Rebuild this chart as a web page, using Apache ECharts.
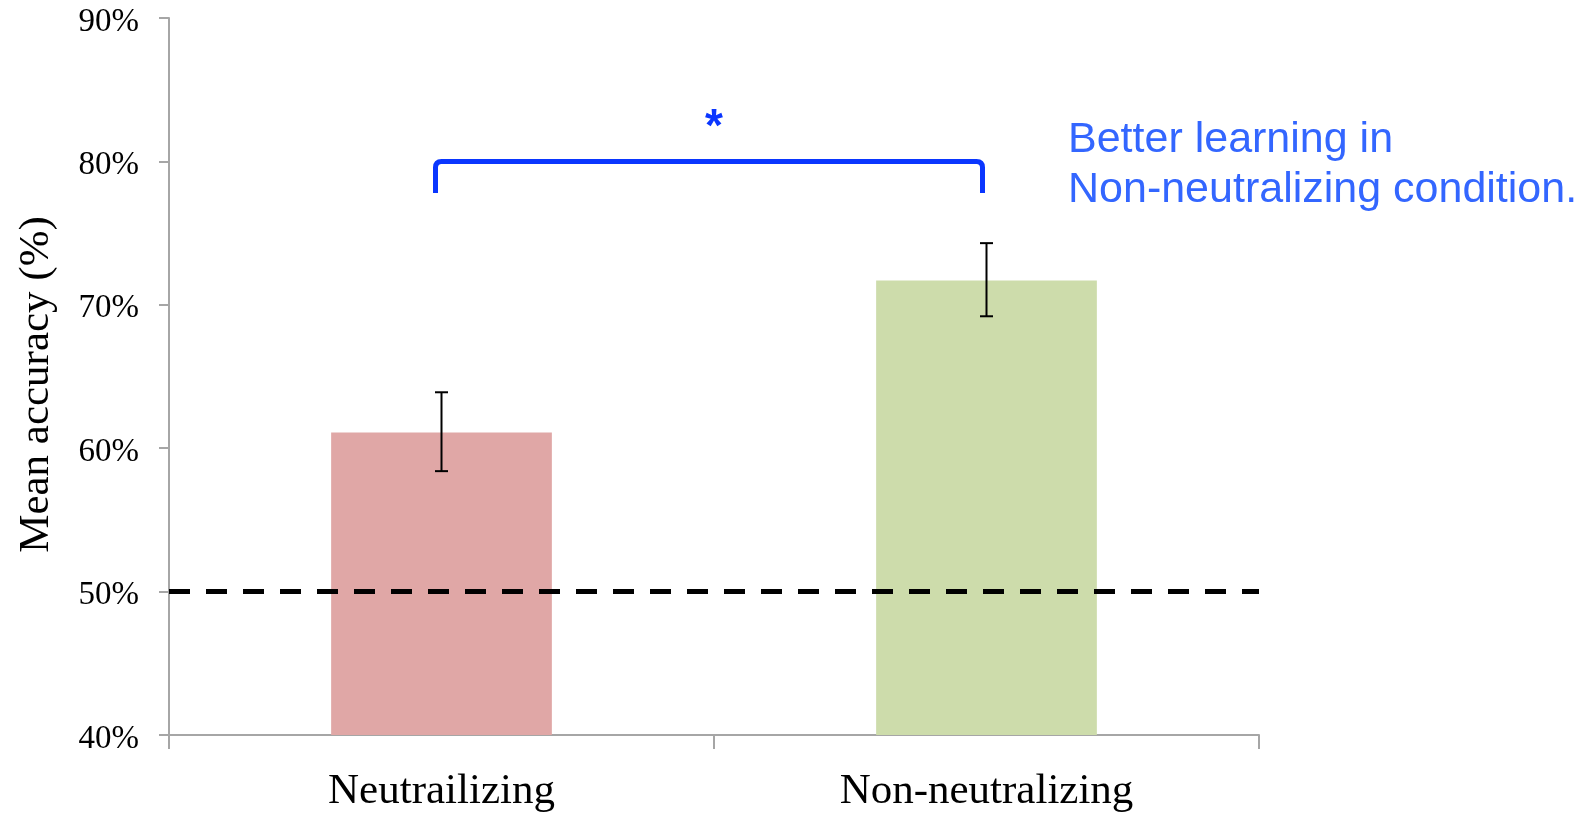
<!DOCTYPE html>
<html><head><meta charset="utf-8">
<script src="https://cdn.jsdelivr.net/npm/echarts@6/dist/echarts.min.js"></script>
<style>html,body{margin:0;padding:0;background:#fff}#c{width:1585px;height:813px}</style>
</head><body><div id="c"></div>
<script>
const categories = ['Neutrailizing', 'Non-neutralizing'];
const meanAccuracy = [61.1, 71.7];
const errorLow = [58.4, 69.2];
const errorHigh = [63.9, 74.3];
const barColors = ['#e0a7a6', '#cddcab'];
const yTicks = [40, 50, 60, 70, 80, 90];
const chanceLevel = 50;
const bracketTop = 80;
const bracketFoot = 77.8;
const starLevel = 83.2;
const starText = '*';
const annotation = ['Better learning in', 'Non-neutralizing condition.'];
const yAxisTitle = 'Mean accuracy (%)';

const serif = '"Liberation Serif", "Times New Roman", serif';
const sans = '"Liberation Sans", Arial, sans-serif';
const axisGrey = '#a6a6a6';
const blue = '#0a36ff';

const chart = echarts.init(document.getElementById('c'), null, {renderer: 'canvas'});
chart.setOption({
  animation: false,
  backgroundColor: '#fff',
  grid: {left: 169, right: 326, top: 18, bottom: 78, containLabel: false},
  xAxis: {
    type: 'category',
    data: categories,
    axisLine: {lineStyle: {color: axisGrey, width: 2}},
    axisTick: {show: true, alignWithLabel: false, length: 14, lineStyle: {color: axisGrey, width: 2}},
    axisLabel: {color: '#000', fontFamily: serif, fontSize: 43, margin: 35}
  },
  yAxis: {
    type: 'value',
    min: yTicks[0],
    max: yTicks[yTicks.length - 1],
    interval: yTicks[1] - yTicks[0],
    name: yAxisTitle,
    nameLocation: 'middle',
    nameGap: 111,
    nameRotate: 90,
    nameTextStyle: {color: '#000', fontFamily: serif, fontSize: 43, padding: [0, 16, 0, 0]},
    axisLine: {show: true, lineStyle: {color: axisGrey, width: 2}},
    axisTick: {show: true, length: 10, lineStyle: {color: axisGrey, width: 2}},
    splitLine: {show: false},
    axisLabel: {
      margin: 30,
      formatter: function (v) { return '{t|' + v + '%}'; },
      rich: {t: {color: '#000', fontFamily: serif, fontSize: 33, padding: [8, 0, 0, 0]}}
    }
  },
  series: [
    {
      type: 'bar',
      barWidth: '40.5%',
      data: meanAccuracy.map((v, i) => ({value: v, itemStyle: {color: barColors[i]}})),
      z: 2
    },
    {
      type: 'custom',
      z: 5,
      data: categories.map((c, i) => [i, errorLow[i], errorHigh[i]]),
      encode: {x: 0, y: [1, 2]},
      renderItem: function (params, api) {
        const x = api.value(0);
        const lo = api.coord([x, api.value(1)]);
        const hi = api.coord([x, api.value(2)]);
        const w = 6.5;
        const st = {stroke: '#000', lineWidth: 2};
        return {type: 'group', children: [
          {type: 'line', shape: {x1: lo[0], y1: lo[1], x2: hi[0], y2: hi[1]}, style: st},
          {type: 'line', shape: {x1: lo[0] - w, y1: lo[1], x2: lo[0] + w, y2: lo[1]}, style: st},
          {type: 'line', shape: {x1: hi[0] - w, y1: hi[1], x2: hi[0] + w, y2: hi[1]}, style: st}
        ]};
      },
      markLine: {
        silent: true,
        symbol: ['none', 'none'],
        label: {show: false},
        lineStyle: {color: '#000', width: 5, type: [21, 16]},
        data: [{yAxis: chanceLevel}]
      }
    },
    {
      type: 'custom',
      z: 6,
      data: [[0, 1, bracketTop, bracketFoot, starLevel]],
      encode: {x: [0, 1], y: [2, 3]},
      renderItem: function (params, api) {
        const a = api.coord([api.value(0), api.value(2)]);
        const b = api.coord([api.value(1), api.value(2)]);
        const f = api.coord([api.value(0), api.value(3)]);
        const s = api.coord([api.value(0), api.value(4)]);
        const x1 = a[0] - 6, x2 = b[0] - 4, yt = a[1], yb = f[1], r = 6;
        const path = 'M' + x1 + ' ' + yb + ' L' + x1 + ' ' + (yt + r) +
          ' Q' + x1 + ' ' + yt + ' ' + (x1 + r) + ' ' + yt +
          ' L' + (x2 - r) + ' ' + yt +
          ' Q' + x2 + ' ' + yt + ' ' + x2 + ' ' + (yt + r) +
          ' L' + x2 + ' ' + yb;
        return {type: 'group', children: [
          {type: 'path', shape: {pathData: path}, style: {stroke: blue, lineWidth: 5, fill: null}},
          {type: 'text', style: {text: starText, x: (a[0] + b[0]) / 2, y: s[1] + 13, align: 'center', verticalAlign: 'middle',
            font: 'bold 46px ' + sans, fill: blue}}
        ]};
      }
    }
  ],
  graphic: [
    {
      type: 'text',
      left: 1068,
      top: 115,
      style: {
        text: annotation.join('\n'),
        font: '43px ' + sans,
        lineHeight: 50,
        fill: '#3366ff'
      }
    }
  ]
});
</script></body></html>
